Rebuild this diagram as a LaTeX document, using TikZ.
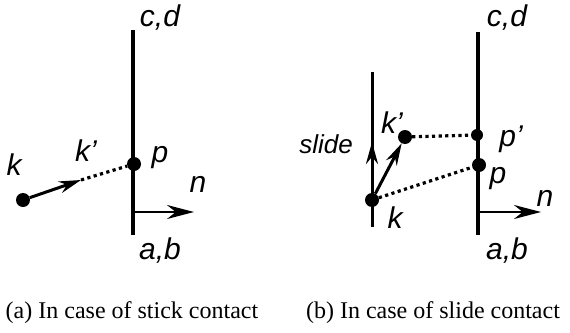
\documentclass[tikz,border=0pt]{standalone}
\usepackage{fontspec}
\setmainfont{Liberation Serif}
\setsansfont{Liberation Sans}
\usepackage{tikz}
\usetikzlibrary{arrows.meta, positioning}

\begin{document}
\begin{tikzpicture}[x=1pt,y=-1pt,>={Stealth[length=22pt,width=12pt]},
                    wall/.style={line width=4pt},
                    vec/.style={->,line width=3pt},
                    nvec/.style={->,line width=2.6pt,>={Stealth[length=27pt,width=14pt]}},
                    dots/.style={line width=3.2pt,dash pattern=on 3.2pt off 3.4pt},
                    pt/.style={circle,fill=black,inner sep=0pt,minimum size=14pt},
                    lab/.style={font=\sffamily\itshape\fontsize{30}{32}\selectfont,inner sep=0pt},
                    captxt/.style={font=\rmfamily\fontsize{24}{26}\selectfont,inner sep=0pt}]
    \useasboundingbox (0,0) rectangle (570,332);

    % (a) stick contact
    \coordinate (ab1) at (133,235);
    \coordinate (cd1) at (133,30);
    \draw[wall] (ab1) -- (cd1);
    \node[pt] (p1) at (134,164) {};
    \node[pt] (k1) at (23,200) {};
    \coordinate (kk1) at (81,180);
    \coordinate (n1) at (133,212);
    \coordinate (nn1) at (194,212);
    \draw[vec] (k1) -- (kk1);
    \draw[dots] (kk1) -- (p1);
    \draw[nvec] (n1) -- (nn1);
    \node[lab] (lk1) at (14,165) {k};
    \node[lab] (lkk1) at (86,151) {k'};
    \node[lab] (lp1) at (160,158) {p};
    \node[lab] (ln1) at (198,184) {n};
    \node[lab] (lcd1) at (160,18) {c,d};
    \node[lab] (lab1) at (160,251) {a,b};
    \node[captxt] (capa) at (132,313) {(a) In case of stick contact};

    % (b) slide contact
    \coordinate (ab2) at (478,235);
    \coordinate (cd2) at (478,32);
    \draw[wall] (ab2) -- (cd2);
    \node[pt] (p2) at (479,165) {};
    \node[pt,minimum size=12pt] (pp2) at (477,135) {};
    \node[pt] (k2) at (372,200) {};
    \node[pt] (kk2) at (405,137) {};
    \coordinate (s0) at (372,227);
    \coordinate (s1) at (372,72);
    \coordinate (s2) at (372,142);
    \draw[line width=3pt] (s0) -- (s1);
    \draw[vec] (k2) -- (s2);
    \draw[vec] (k2) -- (kk2);
    \draw[dots] (kk2) -- (pp2);
    \draw[dots] (k2) -- (p2);
    \coordinate (n2) at (478,212);
    \coordinate (nn2) at (541,212);
    \draw[nvec] (n2) -- (nn2);
    \node[lab] (lk2) at (395,218) {k};
    \node[lab] (lkk2) at (392,123) {k'};
    \node[lab,font=\sffamily\itshape\fontsize{26}{28}\selectfont] (lslide) at (326,144) {slide};
    \node[lab] (lpp2) at (511,139) {p'};
    \node[lab] (lp2) at (498,179) {p};
    \node[lab] (ln2) at (545,198) {n};
    \node[lab] (lcd2) at (507,18) {c,d};
    \node[lab] (lab2) at (507,251) {a,b};
    \node[captxt] (capb) at (433,313) {(b) In case of slide contact};

\end{tikzpicture}
\end{document}
